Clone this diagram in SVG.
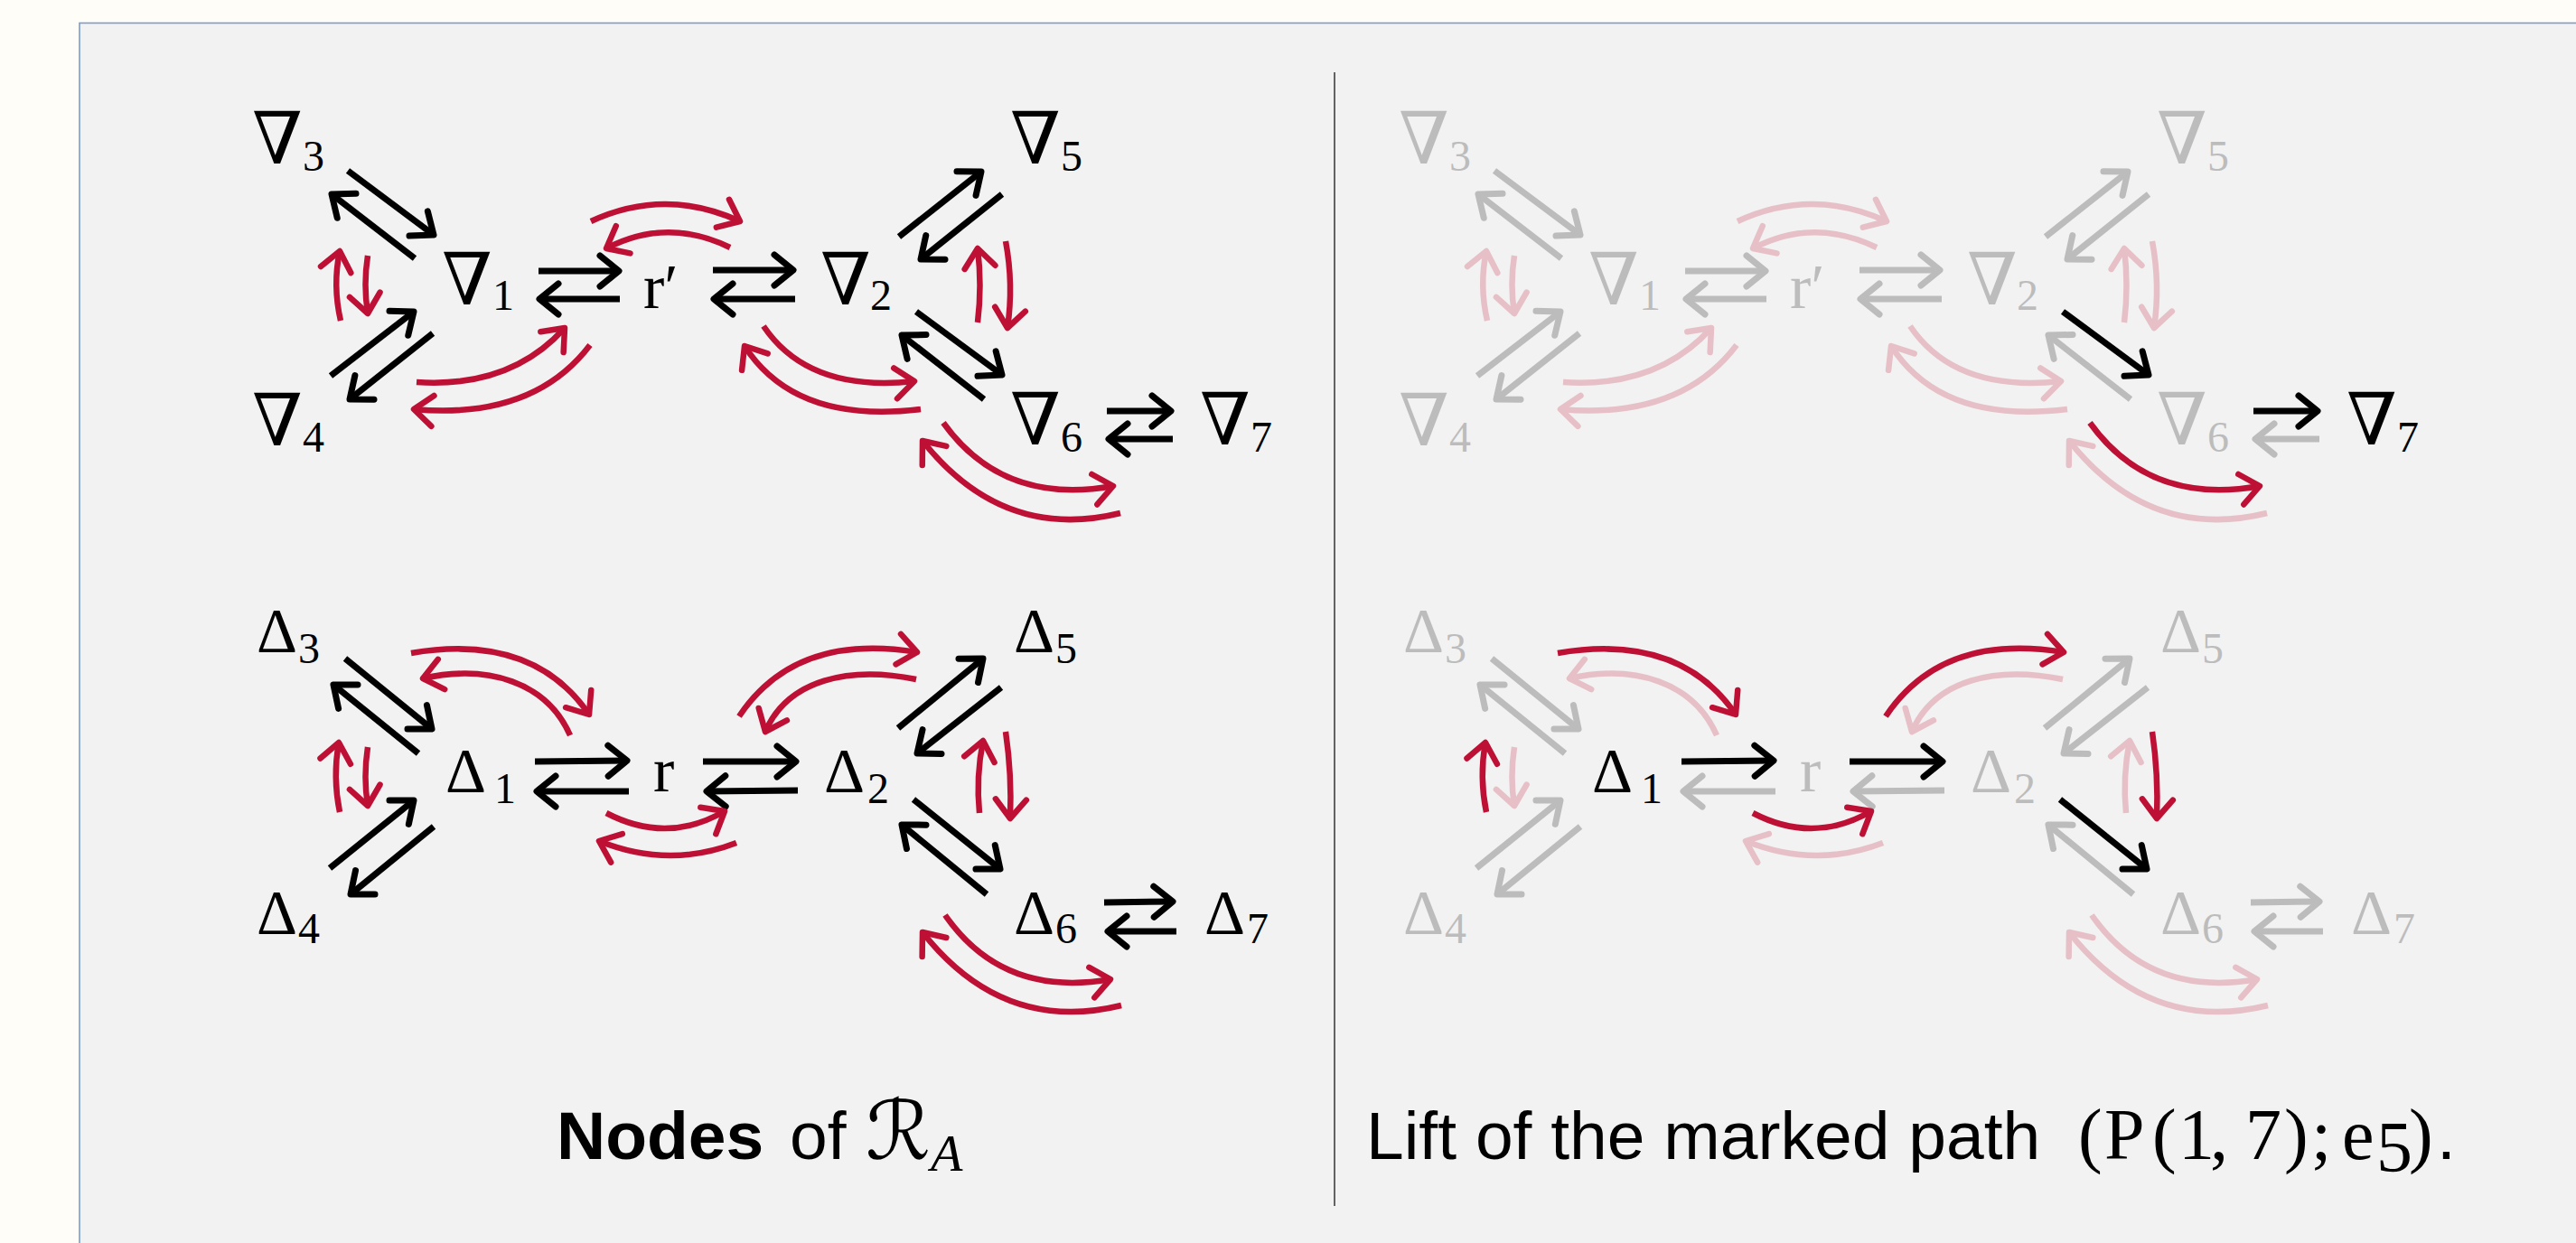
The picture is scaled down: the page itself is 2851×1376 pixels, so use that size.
<svg xmlns="http://www.w3.org/2000/svg" width="2851" height="1376" viewBox="0 0 2851 1376">
<style>
.k{fill:none;stroke:#000;stroke-width:7;marker-end:url(#hk)}
.r{fill:none;stroke:#be1034;stroke-width:6.5;marker-end:url(#hr)}
.f{opacity:0.22}
.t{font-family:"Liberation Serif","DejaVu Serif",serif;fill:#000}
.nb{font-family:"DejaVu Serif",serif;font-size:80px}
.dl{font-size:70px}
.sb{font-family:"Liberation Serif",serif;font-size:48px}
.cap{font-family:"Liberation Sans",Arial,sans-serif;font-size:75px;fill:#000}
.mth{font-family:"Liberation Serif","DejaVu Serif",serif;font-size:80px}
</style>
<defs>
<marker id="hk" markerUnits="userSpaceOnUse" viewBox="-30 -30 40 60" refX="0" refY="0" markerWidth="40" markerHeight="60" orient="auto" overflow="visible">
<path d="M-21,-17 L0,0 L-21,17" fill="none" stroke="#000" stroke-width="7" stroke-linecap="round" stroke-linejoin="round"/>
</marker>
<marker id="hr" markerUnits="userSpaceOnUse" viewBox="-30 -30 40 60" refX="0" refY="0" markerWidth="40" markerHeight="60" orient="auto" overflow="visible">
<path d="M-21,-17 L0,0 L-21,17" fill="none" stroke="#be1034" stroke-width="6.5" stroke-linecap="round" stroke-linejoin="round"/>
</marker>
</defs>
<rect x="0" y="0" width="2851" height="1376" fill="#fefdf8"/>
<rect x="88" y="25.5" width="2800" height="1400" fill="#f2f2f2" stroke="#7b9cc9" stroke-width="1.6"/>
<line x1="1477" y1="80" x2="1477" y2="1335" stroke="#333" stroke-width="1.5"/>

<g id="left-panel">
<g id="connectors-left">
<path class="k" d="M385,189 L480,260"/>
<path class="k" d="M459,286 L367,215"/>
<path class="k" d="M366,416 L458,345"/>
<path class="k" d="M479,369 L387,442"/>
<path class="k" d="M596,300 L685,300"/>
<path class="k" d="M686,331 L597,331"/>
<path class="k" d="M789,299 L878,299"/>
<path class="k" d="M880,331 L790,331"/>
<path class="k" d="M995,262 L1086,190"/>
<path class="k" d="M1109,215 L1019,287"/>
<path class="k" d="M1014,345 L1109,415"/>
<path class="k" d="M1089,442 L998,371"/>
<path class="k" d="M1225,455 L1296,455"/>
<path class="k" d="M1298,486 L1227,486"/>
<path class="r" d="M377,355 Q368,316 376,278"/>
<path class="r" d="M407,283 Q402,315 407,347"/>
<path class="r" d="M654,245 Q736,207 819,245"/>
<path class="r" d="M808,274 Q738,240 671,275"/>
<path class="r" d="M461,423 Q565,430 625,363"/>
<path class="r" d="M653,382 Q590,465 458,453"/>
<path class="r" d="M845,361 Q895,435 1012,422"/>
<path class="r" d="M1019,453 Q880,470 824,383"/>
<path class="r" d="M1082,357 Q1087,316 1082,275"/>
<path class="r" d="M1113,267 Q1122,315 1115,363"/>
<path class="r" d="M1044,468 Q1110,560 1232,538"/>
<path class="r" d="M1240,568 Q1110,600 1021,488"/>
<path class="k" d="M382,729 L478,807"/>
<path class="k" d="M463,834 L369,758"/>
<path class="k" d="M365,961 L458,886"/>
<path class="k" d="M480,915 L388,990"/>
<path class="k" d="M592,843 L694,842"/>
<path class="k" d="M696,876 L594,876"/>
<path class="k" d="M778,843 L881,843"/>
<path class="k" d="M883,875 L782,876"/>
<path class="k" d="M994,806 L1088,729"/>
<path class="k" d="M1108,761 L1015,834"/>
<path class="k" d="M1011,885 L1107,962"/>
<path class="k" d="M1092,990 L998,913"/>
<path class="k" d="M1222,999 L1298,998"/>
<path class="k" d="M1302,1031 L1226,1031"/>
<path class="r" d="M376,899 Q368,860 375,822"/>
<path class="r" d="M407,827 Q402,860 407,892"/>
<path class="r" d="M455,723 Q590,700 652,791"/>
<path class="r" d="M631,814 C605,755 540,735 468,751"/>
<path class="r" d="M818,793 Q880,700 1015,722"/>
<path class="r" d="M1014,752 C940,737 872,752 847,810"/>
<path class="r" d="M671,900 Q738,935 802,898"/>
<path class="r" d="M815,933 Q740,962 663,931"/>
<path class="r" d="M1084,900 Q1080,860 1088,820"/>
<path class="r" d="M1113,810 Q1120,858 1118,906"/>
<path class="r" d="M1046,1013 Q1110,1105 1229,1084"/>
<path class="r" d="M1241,1113 Q1110,1145 1021,1032"/>
</g>
<g id="L-nabla3"><text class="t nb" x="279" y="181">∇<tspan class="sb" x="335" y="189">3</tspan></text></g>
<g id="L-nabla1"><text class="t nb" x="489" y="337">∇<tspan class="sb" x="545" y="343">1</tspan></text></g>
<g id="L-nabla4"><text class="t nb" x="279" y="493">∇<tspan class="sb" x="335" y="500">4</tspan></text></g>
<g id="L-rprime"><text class="t dl" x="712" y="341">r′</text></g>
<g id="L-nabla2"><text class="t nb" x="908" y="337">∇<tspan class="sb" x="963" y="343">2</tspan></text></g>
<g id="L-nabla5"><text class="t nb" x="1118" y="181">∇<tspan class="sb" x="1174" y="189">5</tspan></text></g>
<g id="L-nabla6"><text class="t nb" x="1118" y="492">∇<tspan class="sb" x="1174" y="500">6</tspan></text></g>
<g id="L-nabla7"><text class="t nb" x="1328" y="492">∇<tspan class="sb" x="1384" y="500">7</tspan></text></g>
<g id="L-delta3"><text class="t dl" x="284" y="722">Δ<tspan class="sb" x="330" y="734">3</tspan></text></g>
<g id="L-delta1"><text class="t dl" x="493" y="877">Δ<tspan class="sb" x="547" y="889">1</tspan></text></g>
<g id="L-delta4"><text class="t dl" x="284" y="1034">Δ<tspan class="sb" x="330" y="1044">4</tspan></text></g>
<g id="L-r"><text class="t dl" x="723" y="876">r</text></g>
<g id="L-delta2"><text class="t dl" x="912" y="877">Δ<tspan class="sb" x="960" y="889">2</tspan></text></g>
<g id="L-delta5"><text class="t dl" x="1122" y="722">Δ<tspan class="sb" x="1168" y="734">5</tspan></text></g>
<g id="L-delta6"><text class="t dl" x="1122" y="1034">Δ<tspan class="sb" x="1168" y="1044">6</tspan></text></g>
<g id="L-delta7"><text class="t dl" x="1333" y="1034">Δ<tspan class="sb" x="1380" y="1044">7</tspan></text></g>
<g id="caption-left"><text class="cap" x="616" y="1283"><tspan font-weight="bold">Nodes</tspan><tspan x="874">of</tspan><tspan x="958" font-family="DejaVu Serif,DejaVu Sans,serif" font-size="90">ℛ</tspan><tspan x="1030" y="1296" font-family="Liberation Serif,serif" font-style="italic" font-size="58">A</tspan></text></g>
</g>

<g id="right-panel" transform="translate(1269,0)">
<g id="connectors-right">
<path class="k f" d="M385,189 L480,260"/>
<path class="k f" d="M459,286 L367,215"/>
<path class="k f" d="M366,416 L458,345"/>
<path class="k f" d="M479,369 L387,442"/>
<path class="k f" d="M596,300 L685,300"/>
<path class="k f" d="M686,331 L597,331"/>
<path class="k f" d="M789,299 L878,299"/>
<path class="k f" d="M880,331 L790,331"/>
<path class="k f" d="M995,262 L1086,190"/>
<path class="k f" d="M1109,215 L1019,287"/>
<path class="k" d="M1014,345 L1109,415"/>
<path class="k f" d="M1089,442 L998,371"/>
<path class="k" d="M1225,455 L1296,455"/>
<path class="k f" d="M1298,486 L1227,486"/>
<path class="r f" d="M377,355 Q368,316 376,278"/>
<path class="r f" d="M407,283 Q402,315 407,347"/>
<path class="r f" d="M654,245 Q736,207 819,245"/>
<path class="r f" d="M808,274 Q738,240 671,275"/>
<path class="r f" d="M461,423 Q565,430 625,363"/>
<path class="r f" d="M653,382 Q590,465 458,453"/>
<path class="r f" d="M845,361 Q895,435 1012,422"/>
<path class="r f" d="M1019,453 Q880,470 824,383"/>
<path class="r f" d="M1082,357 Q1087,316 1082,275"/>
<path class="r f" d="M1113,267 Q1122,315 1115,363"/>
<path class="r" d="M1044,468 Q1110,560 1232,538"/>
<path class="r f" d="M1240,568 Q1110,600 1021,488"/>
<path class="k f" d="M382,729 L478,807"/>
<path class="k f" d="M463,834 L369,758"/>
<path class="k f" d="M365,961 L458,886"/>
<path class="k f" d="M480,915 L388,990"/>
<path class="k" d="M592,843 L694,842"/>
<path class="k f" d="M696,876 L594,876"/>
<path class="k" d="M778,843 L881,843"/>
<path class="k f" d="M883,875 L782,876"/>
<path class="k f" d="M994,806 L1088,729"/>
<path class="k f" d="M1108,761 L1015,834"/>
<path class="k" d="M1011,885 L1107,962"/>
<path class="k f" d="M1092,990 L998,913"/>
<path class="k f" d="M1222,999 L1298,998"/>
<path class="k f" d="M1302,1031 L1226,1031"/>
<path class="r" d="M376,899 Q368,860 375,822"/>
<path class="r f" d="M407,827 Q402,860 407,892"/>
<path class="r" d="M455,723 Q590,700 652,791"/>
<path class="r f" d="M631,814 C605,755 540,735 468,751"/>
<path class="r" d="M818,793 Q880,700 1015,722"/>
<path class="r f" d="M1014,752 C940,737 872,752 847,810"/>
<path class="r" d="M671,900 Q738,935 802,898"/>
<path class="r f" d="M815,933 Q740,962 663,931"/>
<path class="r f" d="M1084,900 Q1080,860 1088,820"/>
<path class="r" d="M1113,810 Q1120,858 1118,906"/>
<path class="r f" d="M1046,1013 Q1110,1105 1229,1084"/>
<path class="r f" d="M1241,1113 Q1110,1145 1021,1032"/>
</g>
<g id="R-nabla3" class="f"><text class="t nb" x="279" y="181">∇<tspan class="sb" x="335" y="189">3</tspan></text></g>
<g id="R-nabla1" class="f"><text class="t nb" x="489" y="337">∇<tspan class="sb" x="545" y="343">1</tspan></text></g>
<g id="R-nabla4" class="f"><text class="t nb" x="279" y="493">∇<tspan class="sb" x="335" y="500">4</tspan></text></g>
<g id="R-rprime" class="f"><text class="t dl" x="712" y="341">r′</text></g>
<g id="R-nabla2" class="f"><text class="t nb" x="908" y="337">∇<tspan class="sb" x="963" y="343">2</tspan></text></g>
<g id="R-nabla5" class="f"><text class="t nb" x="1118" y="181">∇<tspan class="sb" x="1174" y="189">5</tspan></text></g>
<g id="R-nabla6" class="f"><text class="t nb" x="1118" y="492">∇<tspan class="sb" x="1174" y="500">6</tspan></text></g>
<g id="R-nabla7"><text class="t nb" x="1328" y="492">∇<tspan class="sb" x="1384" y="500">7</tspan></text></g>
<g id="R-delta3" class="f"><text class="t dl" x="284" y="722">Δ<tspan class="sb" x="330" y="734">3</tspan></text></g>
<g id="R-delta1"><text class="t dl" x="493" y="877">Δ<tspan class="sb" x="547" y="889">1</tspan></text></g>
<g id="R-delta4" class="f"><text class="t dl" x="284" y="1034">Δ<tspan class="sb" x="330" y="1044">4</tspan></text></g>
<g id="R-r" class="f"><text class="t dl" x="723" y="876">r</text></g>
<g id="R-delta2" class="f"><text class="t dl" x="912" y="877">Δ<tspan class="sb" x="960" y="889">2</tspan></text></g>
<g id="R-delta5" class="f"><text class="t dl" x="1122" y="722">Δ<tspan class="sb" x="1168" y="734">5</tspan></text></g>
<g id="R-delta6" class="f"><text class="t dl" x="1122" y="1034">Δ<tspan class="sb" x="1168" y="1044">6</tspan></text></g>
<g id="R-delta7" class="f"><text class="t dl" x="1333" y="1034">Δ<tspan class="sb" x="1380" y="1044">7</tspan></text></g>
</g>

<g id="caption-right"><text class="cap" x="1512" y="1283">Lift of the marked path<tspan class="mth" x="2300" font-size="84">(</tspan><tspan class="mth" x="2329">P</tspan><tspan class="mth" x="2382" font-size="84">(</tspan><tspan class="mth" x="2411">1</tspan><tspan class="mth" x="2446">,</tspan><tspan class="mth" x="2485">7</tspan><tspan class="mth" x="2528" font-size="84">)</tspan><tspan class="mth" x="2558">;</tspan><tspan class="mth" x="2592">e</tspan><tspan class="mth" x="2630" y="1297" font-size="52">5</tspan><tspan class="mth" x="2666" y="1283" font-size="84">)</tspan><tspan x="2697">.</tspan></text></g>
</svg>
